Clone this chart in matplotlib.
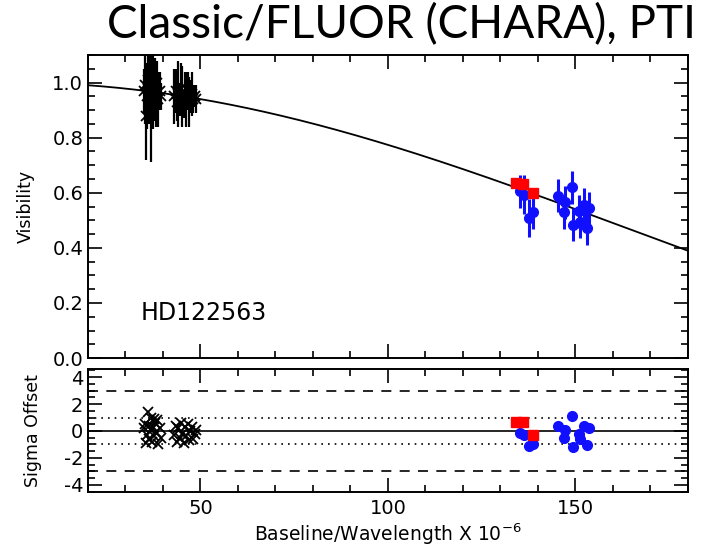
import numpy as np
import matplotlib
matplotlib.use("Agg")
import matplotlib.pyplot as plt
from matplotlib.ticker import MultipleLocator, FormatStrFormatter

plt.rcParams['font.family'] = ['DejaVu Sans']
plt.rcParams['axes.unicode_minus'] = False
plt.rcParams['mathtext.default'] = 'regular'

# CHARA Classic/FLUOR measurements (baseline/wavelength in units of 1e6)
chara_x = [35.0, 35.3, 35.6, 35.8, 36.0, 36.2, 36.4, 36.7, 36.9, 37.1,
           37.3, 37.5, 37.7, 37.9, 38.2, 38.5, 38.8, 39.1, 39.4,
           43.0, 43.4, 43.8, 44.1, 44.5, 44.8, 45.2, 45.5, 45.9, 46.2,
           46.6, 46.9, 47.3, 47.7, 48.1, 48.5, 48.9]
chara_v = [0.97, 0.99, 0.88, 0.95, 1.01, 0.93, 0.98, 0.96, 1.00, 0.94,
           0.97, 0.99, 0.95, 0.98, 0.96, 1.00, 0.94, 0.97, 0.95,
           0.95, 0.97, 0.93, 0.96, 0.94, 0.98, 0.95, 0.92, 0.96, 0.94,
           0.97, 0.93, 0.95, 0.96, 0.94, 0.95, 0.94]
chara_err = [0.08, 0.14, 0.16, 0.12, 0.09, 0.08, 0.12, 0.25, 0.07, 0.10,
             0.14, 0.06, 0.09, 0.11, 0.12, 0.08, 0.10, 0.07, 0.05,
             0.10, 0.08, 0.07, 0.12, 0.06, 0.09, 0.11, 0.05, 0.08, 0.10,
             0.07, 0.09, 0.06, 0.08, 0.05, 0.04, 0.05]
chara_sig = [0.2, 0.5, -0.9, -0.3, 1.4, -0.6, 0.4, 0.1, 1.0, -0.8,
             0.3, 0.9, -0.4, 0.6, -0.1, 0.8, -1.0, 0.2, -0.5,
             -0.3, 0.4, -0.8, 0.2, -0.5, 0.6, -0.2, -0.9, 0.3, -0.4,
             0.5, -0.7, 0.0, 0.3, -0.6, -0.2, 0.1]

# PTI measurements
pti_x = [135.2, 136.3, 137.7, 138.8, 145.3, 147.3, 147.1, 149.1, 149.4,
         150.9, 151.2, 152.3, 153.6, 153.1]
pti_v = [0.605, 0.593, 0.508, 0.529, 0.589, 0.565, 0.529, 0.620, 0.484,
         0.532, 0.495, 0.556, 0.544, 0.472]
pti_err = [0.06, 0.07, 0.07, 0.06, 0.06, 0.06, 0.06, 0.06, 0.06,
           0.06, 0.06, 0.06, 0.06, 0.06]
pti_sig = [-0.12, -0.3, -1.1, -0.94, 0.37, 0.05, -0.5, 1.1, -1.2,
           -0.2, -0.6, 0.37, 0.2, -1.04]

# Additional CHARA points at long baselines
long_x = [134.3, 136.1, 138.8]
long_v = [0.635, 0.633, 0.600]
long_err = [0.01, 0.01, 0.01]
long_sig = [0.7, 0.7, -0.3]

# Uniform-disk model
theta_mas = 0.92


def bessel_j1(x):
    tau = np.linspace(0.0, np.pi, 801)
    vals = np.cos(tau[None, :] - x[:, None] * np.sin(tau[None, :]))
    return np.trapezoid(vals, tau, axis=1) / np.pi


def ud_visibility(bl, theta):
    rad = theta * np.pi / (180.0 * 3600.0 * 1000.0)
    z = np.pi * rad * np.asarray(bl) * 1e6
    return 2.0 * bessel_j1(z) / z


fig = plt.figure(figsize=(7.04, 5.5), dpi=100)
ax1 = fig.add_axes([0.125, 0.349, 0.852, 0.551])
ax2 = fig.add_axes([0.125, 0.105, 0.852, 0.224])

model_x = np.linspace(20, 180, 400)
ax1.plot(model_x, ud_visibility(model_x, theta_mas), color='black', lw=1.3, zorder=3)

ax1.errorbar(chara_x, chara_v, yerr=chara_err, fmt='x', color='black',
             ms=7, mew=1.3, elinewidth=1.6, capsize=0, zorder=4)
ax1.errorbar(pti_x, pti_v, yerr=pti_err, fmt='o', color='#1010ff',
             ms=7, elinewidth=2.2, capsize=0, zorder=4)
ax1.errorbar(long_x, long_v, yerr=long_err, fmt='s', color='#ff0000',
             ms=7, elinewidth=2, capsize=0, zorder=5)

ax1.text(34, 0.165, 'HD122563', fontsize=17, ha='left', va='center')
ax1.set_xlim(20, 180)
ax1.set_ylim(0, 1.1)
ax1.set_ylabel('Visibility', fontsize=12.5)
ax1.yaxis.set_label_coords(-0.088, 0.5)
ax1.yaxis.set_major_locator(MultipleLocator(0.2))
ax1.yaxis.set_minor_locator(MultipleLocator(0.05))
ax1.yaxis.set_major_formatter(FormatStrFormatter('%.1f'))
ax1.tick_params(labelbottom=False)

# residual panel
ax2.axhline(0, color='black', lw=1.2, zorder=1)
for lev in (1, -1):
    ax2.axhline(lev, color='black', lw=1.2, ls=(0, (1, 3)), zorder=1)
for lev in (3, -3):
    ax2.axhline(lev, color='black', lw=1.2, ls=(0, (6, 5)), zorder=1)
ax2.plot(chara_x, chara_sig, 'x', color='black', ms=7, mew=1.3, zorder=4)
ax2.plot(pti_x, pti_sig, 'o', color='#1010ff', ms=7, zorder=4)
ax2.plot(long_x, long_sig, 's', color='#ff0000', ms=7, zorder=5)
ax2.set_xlim(20, 180)
ax2.set_ylim(-4.55, 4.6)
ax2.set_ylabel('Sigma Offset', fontsize=12.5)
ax2.yaxis.set_label_coords(-0.077, 0.5)
ax2.set_xlabel('Baseline/Wavelength X 10$^{-6}$', fontsize=13.5)
ax2.xaxis.set_label_coords(0.5, -0.235)
ax2.yaxis.set_major_locator(MultipleLocator(2))
ax2.yaxis.set_minor_locator(MultipleLocator(0.5))
ax2.yaxis.set_major_formatter(FormatStrFormatter('%d'))

for ax in (ax1, ax2):
    ax.xaxis.set_major_locator(MultipleLocator(50))
    ax.xaxis.set_minor_locator(MultipleLocator(10))
    ax.tick_params(which='both', direction='in', top=True, right=True,
                   labelsize=14, width=1.2)
    ax.tick_params(which='major', length=10)
    ax.tick_params(which='minor', length=5)
    ax.tick_params(axis='x', pad=5)
    for sp in ax.spines.values():
        sp.set_linewidth(1.4)

fig.text(0.57, 0.955, 'Classic/FLUOR (CHARA), PTI', fontsize=33,
         family=['Lato', 'DejaVu Sans'], fontweight='normal',
         ha='center', va='center')

fig.savefig('out.png', dpi=100)
